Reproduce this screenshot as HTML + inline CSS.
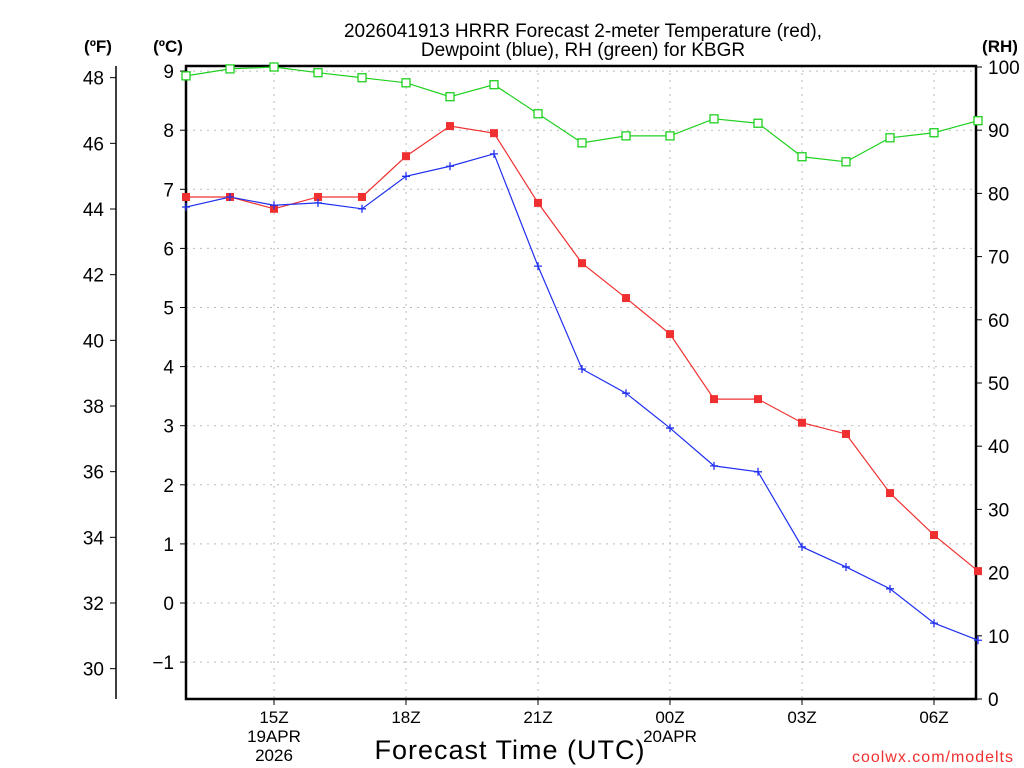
<!DOCTYPE html>
<html><head><meta charset="utf-8"><style>
html,body{margin:0;padding:0;background:#fff;}
svg{display:block;font-family:"Liberation Sans",sans-serif;}
</style></head><body>
<svg id="chart" width="1024" height="768" viewBox="0 0 1024 768">
<g id="grid"></g>
<g id="axes"></g>
<g id="series"></g>
<text x="583" y="37" font-size="19" text-anchor="middle">2026041913 HRRR Forecast 2-meter Temperature (red),</text>
<text x="583" y="56" font-size="19" text-anchor="middle">Dewpoint (blue), RH (green) for KBGR</text>
<text x="98" y="52" font-size="17" font-weight="bold" text-anchor="middle">(ºF)</text>
<text x="168" y="52" font-size="17" font-weight="bold" text-anchor="middle">(ºC)</text>
<text x="1000" y="52" font-size="17" font-weight="bold" text-anchor="middle">(RH)</text>
<text x="510" y="759" font-size="27" text-anchor="middle" letter-spacing="1">Forecast Time (UTC)</text>
<text x="1014" y="762" font-size="16" fill="#f03030" text-anchor="end" letter-spacing="1">coolwx.com/modelts</text>
</svg>
<script>
const hours = [13,14,15,16,17,18,19,20,21,22,23,24,25,26,27,28,29,30,31];
const tempC = [6.87,6.87,6.67,6.87,6.87,7.56,8.07,7.95,6.77,5.75,5.16,4.55,3.45,3.45,3.05,2.86,1.86,1.15,0.54];
const dewC = [6.70,6.87,6.73,6.77,6.67,7.22,7.39,7.60,5.70,3.96,3.55,2.96,2.32,2.22,0.95,0.61,0.24,-0.34,-0.63];
const rh = [98.6,99.7,100,99.1,98.3,97.5,95.3,97.2,92.6,88,89.1,89.1,91.8,91.1,85.8,85,88.8,89.6,91.5];
const cTicks = [-1,0,1,2,3,4,5,6,7,8,9];
const fTicks = [30,32,34,36,38,40,42,44,46,48];
const rhTicks = [0,10,20,30,40,50,60,70,80,90,100];
const xTickHours = [15,18,21,24,27,30];
const xTickLabels = ["15Z","18Z","21Z","00Z","03Z","06Z"];

const NS="http://www.w3.org/2000/svg";
const L=186,R=976,T=66,B=699;
const xS=h=>186+(h-13)*44;
const yC=c=>603-c*59.1;
const yF=f=>yC((f-32)*5/9);
const yRH=v=>699-v*6.32;
function mk(tag,attrs,parent,text){const e=document.createElementNS(NS,tag);for(const k in attrs)e.setAttribute(k,attrs[k]);if(text!==undefined)e.textContent=text;parent.appendChild(e);return e;}
const grid=document.getElementById('grid'),axes=document.getElementById('axes'),series=document.getElementById('series');

cTicks.forEach(c=>{const y=yC(c);
 const g=mk('line',{x1:L,x2:R,y1:y,y2:y,stroke:'#bbb','stroke-dasharray':'2,5'},grid);
 
 
 mk('line',{x1:L-6,x2:L,y1:y,y2:y,stroke:'#000'},axes);
 const t=mk('text',{x:L-12,y:y+7,'font-size':19,'text-anchor':'end'},axes,String(c).replace('-','\u2212'));
 
 
});
xTickHours.forEach((h,i)=>{const x=xS(h);
 const g=mk('line',{x1:x,x2:x,y1:T,y2:B,stroke:'#bbb','stroke-dasharray':'2,5'},grid);
 
 
 mk('line',{x1:x,x2:x,y1:B,y2:B+6,stroke:'#000'},axes);
 const t=mk('text',{x:x,y:723,'font-size':17,'text-anchor':'middle'},axes,xTickLabels[i]);
 
 
});
let t1=mk('text',{x:xS(15),y:742,'font-size':17,'text-anchor':'middle'},axes,'19APR');


t1=mk('text',{x:xS(15),y:761,'font-size':17,'text-anchor':'middle'},axes,'2026');


t1=mk('text',{x:xS(24),y:742,'font-size':17,'text-anchor':'middle'},axes,'20APR');



mk('line',{x1:116,x2:116,y1:66,y2:699,stroke:'#000','stroke-width':1.5},axes);
fTicks.forEach(f=>{const y=yF(f);
 mk('line',{x1:110,x2:116,y1:y,y2:y,stroke:'#000'},axes);
 const t=mk('text',{x:104,y:y+7,'font-size':19,'text-anchor':'end'},axes,String(f));
 
 
});
rhTicks.forEach(v=>{const y=yRH(v);
 mk('line',{x1:R,x2:R+6,y1:y,y2:y,stroke:'#000'},axes);
 const t=mk('text',{x:R+12,y:y+7,'font-size':19,'text-anchor':'start'},axes,String(v));
 
 
});
const frame=mk('rect',{x:L,y:T,width:R-L,height:B-T,fill:'none',stroke:'#000','stroke-width':2.5},axes);



function line(vals,yf,color,name){
 const pts=vals.map((v,i)=>xS(hours[i])+','+yf(v)).join(' ');
 const p=mk('polyline',{points:pts,fill:'none',stroke:color,'stroke-width':1.2},series);
 
 
}
line(rh,yRH,'#20d020','rh-line');
line(tempC,yC,'#f03030','temperature-line');
line(dewC,yC,'#2030f0','dewpoint-line');
rh.forEach((v,i)=>{const m=mk('rect',{x:xS(hours[i])-4,y:yRH(v)-4,width:8,height:8,fill:'#fff',stroke:'#20d020','stroke-width':1.3},series);
 
 });
tempC.forEach((v,i)=>{const m=mk('rect',{x:xS(hours[i])-4,y:yC(v)-4,width:8,height:8,fill:'#f03030'},series);
 
 });
dewC.forEach((v,i)=>{const x=xS(hours[i]),y=yC(v);
 const m=mk('path',{d:`M${x-4},${y}H${x+4}M${x},${y-4}V${y+4}`,stroke:'#2030f0','stroke-width':1.3},series);
 
 });
</script>
</body></html>
